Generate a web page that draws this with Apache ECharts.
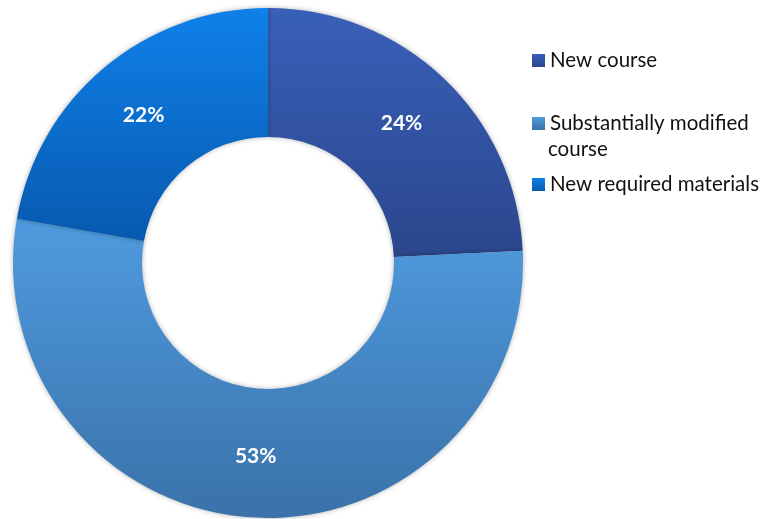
<!DOCTYPE html>
<html>
<head>
<meta charset="utf-8">
<script src="https://cdn.jsdelivr.net/npm/echarts@6/dist/echarts.min.js"></script>
<style>
  html, body { margin: 0; padding: 0; background: #fff; }
  #chart { width: 768px; height: 519px; }
</style>
</head>
<body>
<div id="chart"></div>
<script>
// Share of course changes by type
const categories = ['New course', 'Substantially modified course', 'New required materials'];
const legendLabels = ['New course', 'Substantially modified', 'New required materials'];
const values = [24, 53, 22];

// Vertical gradient per slice: lighter at top, darker at bottom
const sliceColors = [
  ['#3960b9', '#2b468c'],
  ['#4f9bdf', '#3a72a9'],
  ['#0f81ea', '#0759ae']
];

function grad(pair) {
  return new echarts.graphic.LinearGradient(0, 0, 0, 1, [
    { offset: 0, color: pair[0] },
    { offset: 1, color: pair[1] }
  ]);
}

const fontFamily = 'Lato, "Open Sans", sans-serif';
const legendTops = [45, 108, 169];

const chart = echarts.init(document.getElementById('chart'));
chart.setOption({
  animation: false,
  legend: categories.map((name, i) => ({
    data: [name],
    left: 527,
    top: legendTops[i],
    orient: 'vertical',
    itemWidth: 13,
    itemHeight: 13,
    itemGap: 0,
    selectedMode: false,
    icon: 'rect',
    formatter: () => legendLabels[i],
    textStyle: { fontFamily, fontSize: 20.5, color: '#111' }
  })),
  graphic: [{
    type: 'text',
    left: 548,
    top: 139,
    style: { text: 'course', fontFamily, fontSize: 20.5, fill: '#111' }
  }],
  series: [{
    type: 'pie',
    center: [268, 263],
    radius: [126, 255],
    startAngle: 90,
    clockwise: true,
    avoidLabelOverlap: false,
    label: {
      show: true,
      position: 'inside',
      formatter: '{c}%',
      color: '#fff',
      fontFamily,
      fontWeight: 'bold',
      fontSize: 21
    },
    labelLine: { show: false },
    itemStyle: {
      shadowBlur: 5,
      shadowColor: 'rgba(0,0,0,0.3)',
      borderWidth: 0
    },
    emphasis: { disabled: true },
    data: categories.map((name, i) => ({
      name,
      value: values[i],
      itemStyle: { color: grad(sliceColors[i]) }
    }))
  }]
});
</script>
</body>
</html>
